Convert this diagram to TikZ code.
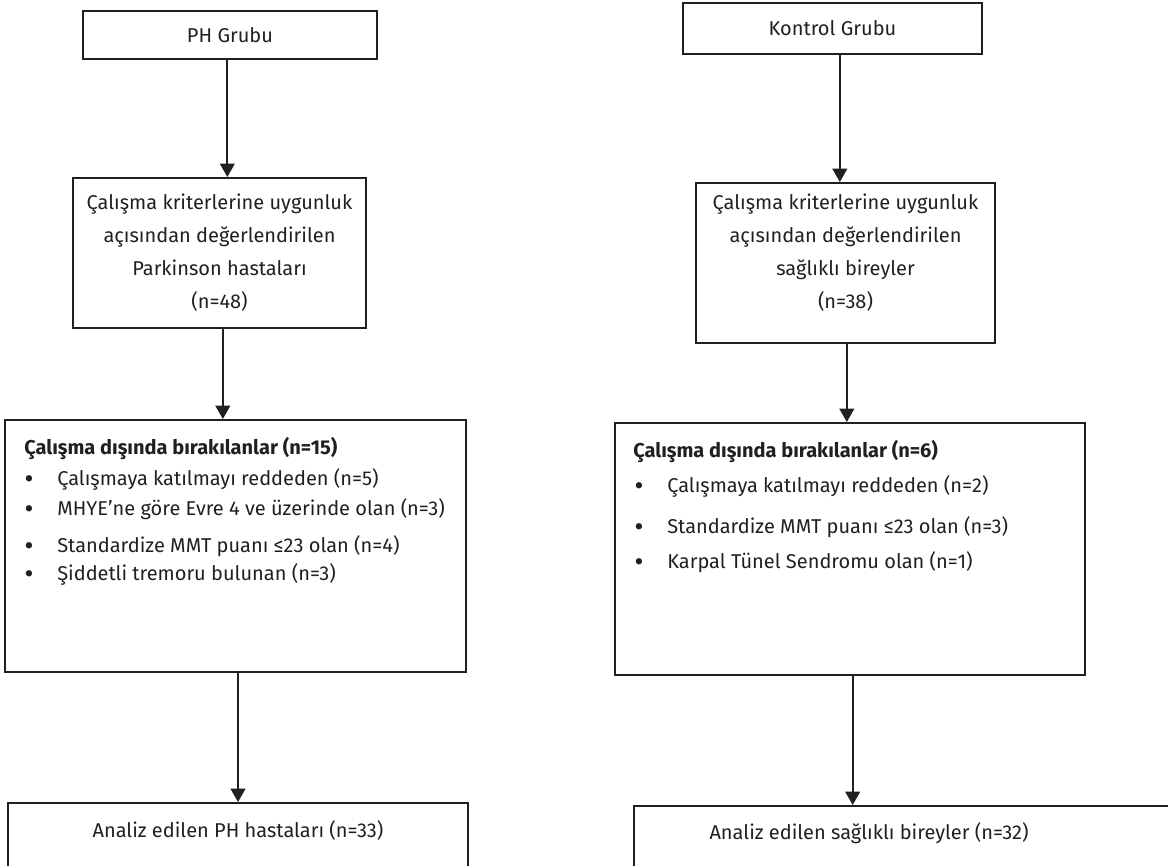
\documentclass[tikz,border=0pt]{standalone}
\usepackage{fontspec}
\setmainfont{Fira Sans}
\usetikzlibrary{arrows.meta}
\definecolor{inkgray}{HTML}{231F20}
\tikzset{
  box/.style={draw=inkgray, line width=1.5pt, rectangle, inner sep=0pt},
  txt/.style={text=inkgray, font=\fontsize{15pt}{24.75pt}\selectfont, inner sep=0pt},
  dot/.style={text=inkgray, font=\fontsize{17pt}{17pt}\selectfont\bfseries, inner sep=0pt},
  arr/.style={draw=inkgray, line width=1.5pt, -{Triangle[length=10pt,width=11pt]}}
}
\begin{document}
\begin{tikzpicture}[x=0.75pt, y=-0.75pt]
  \useasboundingbox (0,0) rectangle (1168,866);
  % PH group column
  \node[box, txt, minimum width=220.5pt, minimum height=36pt] (ph) at (230,35) {PH Grubu};
  \node[box, txt, align=center, minimum width=219.75pt, minimum height=112.5pt] (phcrit) at (219.5,253)
    {Çalışma kriterlerine uygunluk\\açısından değerlendirilen\\Parkinson hastaları\\(n=48)};
  \node[box, minimum width=345.75pt, minimum height=189pt] (phexc) at (235.5,546) {};
  \node[txt, anchor=base west, font=\fontsize{15pt}{24.75pt}\selectfont\bfseries] (phexchead) at (24,454)
    {Çalışma dışında bırakılanlar (n=15)};
  \foreach \y/\txt [count=\i] in {485/Çalışmaya katılmayı reddeden (n=5),
                                   515/MHYE’ne göre Evre 4 ve üzerinde olan (n=3),
                                   552/Standardize MMT puanı ≤23 olan (n=4),
                                   580/Şiddetli tremoru bulunan (n=3)}{
    \node[dot, anchor=base] (phdot\i) at (29,\y+1) {•};
    \node[txt, anchor=base west] (phitem\i) at (57,\y) {\txt};
  }
  \node[box, minimum width=345pt, minimum height=72.75pt] (phan) at (238,851.5) {};
  \node[txt, anchor=base] (phantxt) at (238,837) {Analiz edilen PH hastaları (n=33)};
  % Control group column
  \node[box, txt, minimum width=224.25pt, minimum height=38.25pt] (kg) at (832.5,28.5) {Kontrol Grubu};
  \node[box, minimum width=224.25pt, minimum height=120pt] (kgcrit) at (845.5,263) {};
  \node[txt, align=center] (kgcrittxt) at (845.5,253)
    {Çalışma kriterlerine uygunluk\\açısından değerlendirilen\\sağlıklı bireyler\\(n=38)};
  \node[box, minimum width=352.5pt, minimum height=189pt] (kgexc) at (850,549) {};
  \node[txt, anchor=base west, font=\fontsize{15pt}{24.75pt}\selectfont\bfseries] (kgexchead) at (633,457)
    {Çalışma dışında bırakılanlar (n=6)};
  \foreach \y/\txt [count=\i] in {492/Çalışmaya katılmayı reddeden (n=2),
                                   533/Standardize MMT puanı ≤23 olan (n=3),
                                   568/Karpal Tünel Sendromu olan (n=1)}{
    \node[dot, anchor=base] (kgdot\i) at (639,\y+1) {•};
    \node[txt, anchor=base west] (kgitem\i) at (667,\y) {\txt};
  }
  \node[box, minimum width=417pt, minimum height=70.5pt] (kgan) at (912,853) {};
  \node[txt, anchor=base] (kgantxt) at (869,839) {Analiz edilen sağlıklı bireyler (n=32)};
  % Arrows
  \draw[arr] ([xshift=-2pt]ph.south) -- ([xshift=-2pt]ph.south |- phcrit.north);
  \draw[arr] ([xshift=2.5pt]phcrit.south) -- ([xshift=2.5pt]phcrit.south |- phexc.north);
  \draw[arr] (phan.north |- phexc.south) -- (phan.north);
  \draw[arr] ([xshift=5.5pt]kg.south) -- ([xshift=5.5pt]kg.south |- kgcrit.north);
  \draw[arr] ([xshift=1pt]kgcrit.south) -- ([xshift=1pt]kgcrit.south |- kgexc.north);
  \draw[arr] ([xshift=2pt]kgexc.south) -- ([xshift=2pt]kgexc.south |- kgan.north);
\end{tikzpicture}
\end{document}
